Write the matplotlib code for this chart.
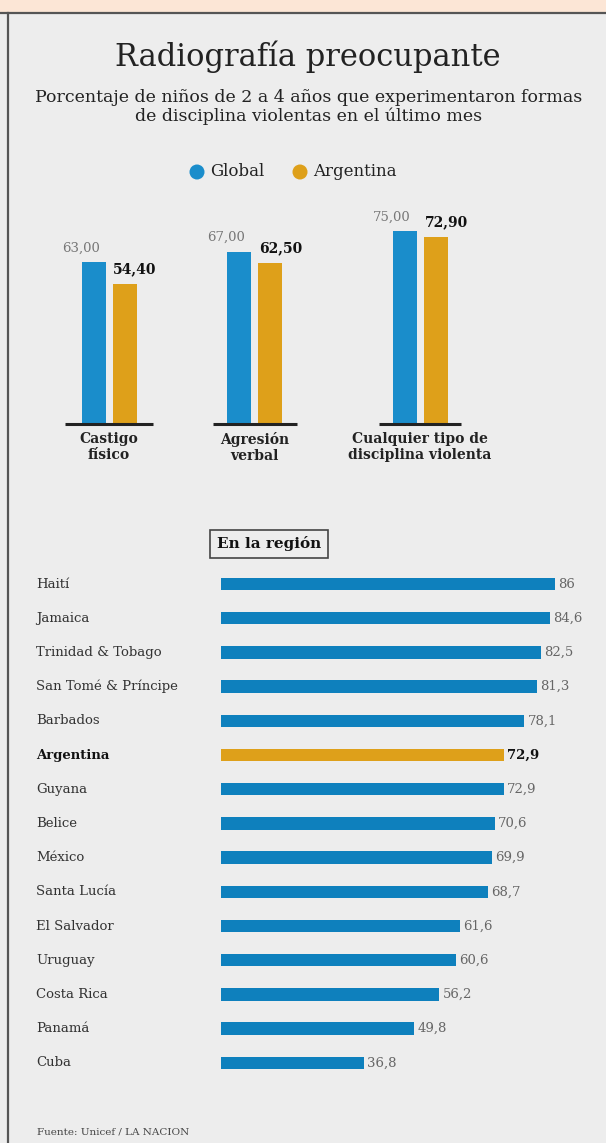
import matplotlib
matplotlib.use("Agg")
import matplotlib.pyplot as plt
from matplotlib.patches import Rectangle, Ellipse
from matplotlib.transforms import blended_transform_factory

# top chart data
categories = ["Castigo\nfísico", "Agresión\nverbal", "Cualquier tipo de\ndisciplina violenta"]
global_vals = [63.00, 67.00, 75.00]
argentina_vals = [54.40, 62.50, 72.90]

# region data
countries = ["Haití", "Jamaica", "Trinidad & Tobago", "San Tomé & Príncipe", "Barbados",
             "Argentina", "Guyana", "Belice", "México", "Santa Lucía", "El Salvador",
             "Uruguay", "Costa Rica", "Panamá", "Cuba"]
region_vals = [86, 84.6, 82.5, 81.3, 78.1, 72.9, 72.9, 70.6, 69.9, 68.7, 61.6,
               60.6, 56.2, 49.8, 36.8]

BLUE = "#1a8dcb"
BLUE_DARK = "#0e80bd"
ORANGE = "#dea01a"
BG = "#ededed"
PEACH = "#fce6d6"
SERIF = "DejaVu Serif"

W, H = 606, 1143
fig = plt.figure(figsize=(W / 100, H / 100), dpi=100)
fig.patch.set_facecolor(BG)


def fx(x):
    return x / W


def fy(y):
    return 1 - y / H


def fmt(v, d):
    return f"{v:.{d}f}".replace(".", ",")


# frame: peach band, top rule, left rule
fig.patches.append(Rectangle((0, fy(12)), 1, 12 / H, transform=fig.transFigure,
                             facecolor=PEACH, edgecolor="none", zorder=0))
fig.add_artist(plt.Line2D([0, 1], [fy(13), fy(13)], color="#555555", lw=1.6))
fig.add_artist(plt.Line2D([fx(7.5), fx(7.5)], [fy(13), 0], color="#555555", lw=1.6))

# titles
fig.text(fx(308), fy(57), "Radiografía preocupante", ha="center", va="center",
         fontsize=22, family=SERIF, color="#222222")
fig.text(fx(309), fy(107), "Porcentaje de niños de 2 a 4 años que experimentaron formas\n"
         "de disciplina violentas en el último mes", ha="center", va="center",
         fontsize=12.5, family=SERIF, color="#222222", linespacing=1.15)

# legend
for cx, col, lab in [(197, BLUE, "Global"), (300, ORANGE, "Argentina")]:
    fig.patches.append(Ellipse((fx(cx), fy(172)), 15 / W, 15 / H, transform=fig.transFigure,
                               facecolor=col, edgecolor="none"))
    fig.text(fx(cx + 13), fy(172), lab, ha="left", va="center", fontsize=12,
             family=SERIF, color="#222222")

# top grouped bars (x axis in pixels, y axis in percent)
base_y, top_y = 424, 167
ax1 = fig.add_axes([0, fy(base_y), 1, (base_y - top_y) / H])
ax1.set_xlim(0, W)
ax1.set_ylim(0, 100)
ax1.axis("off")
group_x = [109, 254.5, 420]
line_half = [44, 42, 41]
bw = 24
for gx, g, a, cat, lh in zip(group_x, global_vals, argentina_vals, categories, line_half):
    ax1.bar(gx - 15.5, g, width=bw, color=BLUE)
    ax1.bar(gx + 15.5, a, width=bw, color=ORANGE)
    ax1.text(gx - 28, g + 3, fmt(g, 2), ha="center", va="bottom", fontsize=9.5,
             family=SERIF, color="#777777")
    ax1.text(gx + 26, a + 3, fmt(a, 2), ha="center", va="bottom", fontsize=10,
             family=SERIF, color="#111111", weight="bold")
    ax1.plot([gx - lh, gx + lh], [0, 0], color="#222222", lw=2.2, clip_on=False,
             solid_capstyle="butt")
    ax1.text(gx, -3.0, cat, ha="center", va="top", fontsize=10, family=SERIF,
             weight="bold", color="#222222", linespacing=1.25)

# "En la región" box
fig.text(fx(269), fy(544), "En la región", ha="center", va="center", fontsize=11,
         family=SERIF, weight="bold", color="#111111",
         bbox=dict(boxstyle="square,pad=0.45", facecolor="none", edgecolor="#444444", lw=1.2))

# region horizontal bars
row0, step = 584, 34.2
n = len(countries)
top = row0 - step / 2
bottom = row0 + step * (n - 0.5)
ax2 = fig.add_axes([fx(221), fy(bottom), 388.4 / W, (bottom - top) / H])
ax2.set_xlim(0, 100)
ax2.set_ylim(n - 0.5, -0.5)
ax2.axis("off")
ypos = list(range(n))
colors = [ORANGE if c == "Argentina" else BLUE_DARK for c in countries]
ax2.barh(ypos, region_vals, height=0.36, color=colors)
label_tr = blended_transform_factory(fig.transFigure, ax2.transData)
for y, c, v in zip(ypos, countries, region_vals):
    arg = c == "Argentina"
    ax2.text(v + 0.8, y, f"{v:g}".replace(".", ","), ha="left", va="center",
             fontsize=9.5, family=SERIF, color="#111111" if arg else "#666666",
             weight="bold" if arg else "normal")
    ax2.text(fx(36), y, c, transform=label_tr, ha="left", va="center",
             fontsize=9.5, family=SERIF, color="#111111" if arg else "#333333",
             weight="bold" if arg else "normal")

fig.text(fx(37), fy(1132), "Fuente: Unicef / LA NACION", ha="left", va="center",
         fontsize=7.5, family=SERIF, color="#444444")

fig.savefig("out.png", dpi=100, facecolor=BG)
